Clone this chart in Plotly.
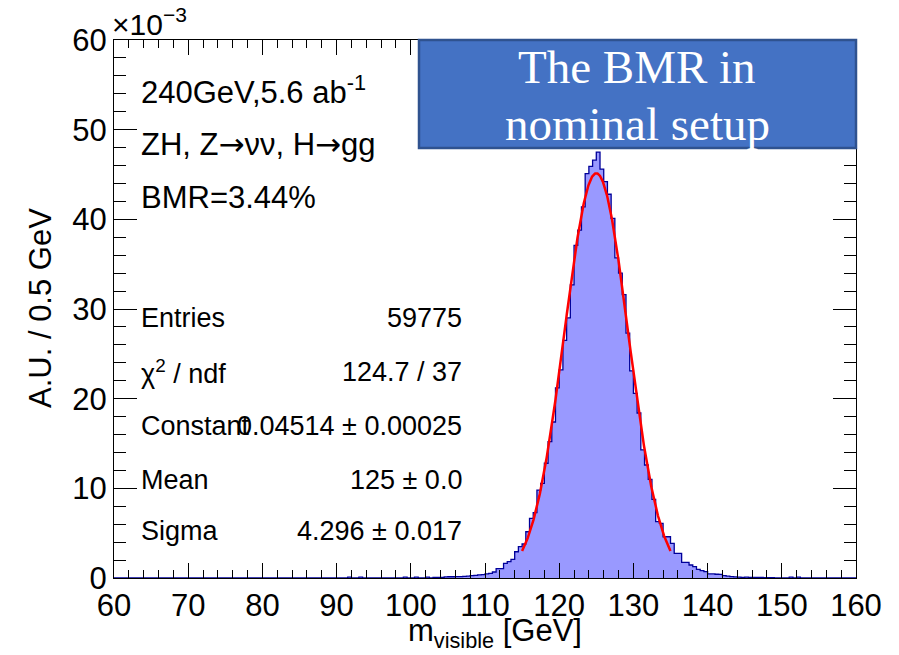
import numpy as np
import plotly.graph_objects as go

# ---- histogram: m_visible, 0.5 GeV bins on [60, 160], contents in units of 1e-3 ----
bin_width = 0.5
x_min, x_max = 60.0, 160.0
first_filled_edge = 90.0
# bin contents starting at 90.0 GeV (one entry per 0.5 GeV bin)
filled_counts = [
    0, 0, 0, 0.1, 0, 0, 0.1, 0, 0, 0,            # 90.0 - 94.5
    0, 0, 0, 0, 0, 0, 0, 0, 0.1, 0,              # 95.0 - 99.5
    0, 0.1, 0, 0, 0.1, 0, 0.08, 0.08, 0.08, 0.12,  # 100.0 - 104.5
    0.14, 0.14, 0.16, 0.16, 0.18, 0.2, 0.27, 0.3, 0.35, 0.37,  # 105.0 - 109.5
    0.45, 0.52, 0.67, 1.04, 1.04, 1.64, 1.82, 2.08, 2.93, 3.49,  # 110.0 - 114.5
    3.79, 5.16, 6.65, 7.28, 9.81, 10.55, 12.8, 15.2, 17.4, 21.2,  # 115.0 - 119.5
    23.2, 26.5, 29.0, 32.7, 37.1, 38.8, 41.4, 45.1, 45.9, 46.6,   # 120.0 - 124.5
    47.5, 45.6, 44.2, 42.8, 40.1, 35.7, 34.0, 31.6, 27.3, 23.1,   # 125.0 - 129.5
    20.6, 18.4, 14.3, 12.6, 11.0, 8.77, 6.28, 6.1, 4.6, 4.6,      # 130.0 - 134.5
    3.87, 2.75, 2.75, 1.75, 1.75, 1.45, 1.26, 0.97, 0.82, 0.70,   # 135.0 - 139.5
    0.45, 0.45, 0.42, 0.40, 0.26, 0.2, 0.15, 0.12, 0.1, 0.08,     # 140.0 - 144.5
    0.1, 0.08, 0.06, 0.06, 0.06, 0.05, 0.04, 0.03, 0, 0,          # 145.0 - 149.5
    0, 0, 0.1, 0, 0.1, 0,                                         # 150.0 - 152.5
]

# ---- Gaussian fit results ----
fit_constant = 0.04514      # per bin
fit_mean = 125.0
fit_sigma = 4.296
fit_range = (115.0, 135.0)

ARROW = '<span style="font-family:DejaVu Sans">→</span>'
stat_labels = ["Entries", "χ<sup>2</sup> / ndf", "Constant", "Mean", "Sigma"]
stat_values = ["59775", "124.7 / 37", "0.04514 ± 0.00025", "125 ± 0.0", "4.296 ± 0.017"]
info_lines = ["240GeV,5.6 ab<sup>-1</sup>",
              f"ZH, Z{ARROW}νν, H{ARROW}gg",
              "BMR=3.44%"]
banner_lines = ["The BMR in", "nominal setup"]

# ---- full binning ----
n_bins = int(round((x_max - x_min) / bin_width))
counts = np.zeros(n_bins)
start = int(round((first_filled_edge - x_min) / bin_width))
counts[start:start + len(filled_counts)] = filled_counts
edges = x_min + bin_width * np.arange(n_bins + 1)
step_y = np.append(counts, counts[-1])

# fit curve (scaled to the 1e-3 axis units)
xf = np.linspace(fit_range[0], fit_range[1], 400)
yf = 1e3 * fit_constant * np.exp(-0.5 * ((xf - fit_mean) / fit_sigma) ** 2)

# ---- page geometry (pixels) ----
W, H = 899, 655
L, R, T, B = 114, 856, 40, 578


def px(x):
    return (x - L) / (R - L)


def py(y):
    return (B - y) / (B - T)


SANS = "Liberation Sans, Arial, Helvetica, sans-serif"
SERIF = "Liberation Serif, Times New Roman, serif"

fig = go.Figure()
fig.add_trace(go.Scatter(
    x=edges, y=step_y, mode="lines", line_shape="hv",
    line=dict(color="#000099", width=1.3),
    fill="tozeroy", fillcolor="#9999FF",
    hoverinfo="skip", showlegend=False,
))
fig.add_trace(go.Scatter(
    x=xf, y=yf, mode="lines",
    line=dict(color="#FF0000", width=2.5),
    hoverinfo="skip", showlegend=False,
))

axis_common = dict(
    showgrid=False, zeroline=False,
    showline=True, linecolor="black", linewidth=1, mirror="allticks",
    ticks="inside", tickcolor="black", tickwidth=1,
    tickfont=dict(family=SANS, size=31, color="black"),
)
fig.update_xaxes(
    range=[x_min, x_max], dtick=10, tick0=60, ticklen=15,
    minor=dict(dtick=2, ticklen=8, ticks="inside", tickcolor="black", showgrid=False),
    **axis_common,
)
fig.update_yaxes(
    range=[0, 60], dtick=10, tick0=0, ticklen=23,
    minor=dict(dtick=2, ticklen=12, ticks="inside", tickcolor="black", showgrid=False),
    **axis_common,
)

ann = []
# axis titles and exponent
ann.append(dict(x=px(495), y=py(633), xref="paper", yref="paper",
                text="m<sub>visible</sub> [GeV]", showarrow=False,
                font=dict(family=SANS, size=31, color="black"),
                xanchor="center", yanchor="middle"))
ann.append(dict(x=px(40), y=py(308), xref="paper", yref="paper",
                text="A.U. / 0.5 GeV", showarrow=False, textangle=-90,
                font=dict(family=SANS, size=31, color="black"),
                xanchor="center", yanchor="middle"))
ann.append(dict(x=px(110), y=py(22), xref="paper", yref="paper",
                text="×10<sup>−3</sup>", showarrow=False,
                font=dict(family=SANS, size=30, color="black"),
                xanchor="left", yanchor="middle"))

# info text
for line, yy in zip(info_lines, [90, 144, 198]):
    ann.append(dict(x=px(139), y=py(yy), xref="paper", yref="paper", text=line,
                    showarrow=False, font=dict(family=SANS, size=31, color="black"),
                    xanchor="left", yanchor="middle"))

# fit statistics
for lab, val, yy in zip(stat_labels, stat_values, [318, 372, 426, 480, 531]):
    ann.append(dict(x=px(139), y=py(yy), xref="paper", yref="paper", text=lab,
                    showarrow=False, font=dict(family=SANS, size=27, color="black"),
                    xanchor="left", yanchor="middle"))
    ann.append(dict(x=px(464), y=py(yy), xref="paper", yref="paper", text=val,
                    showarrow=False, font=dict(family=SANS, size=27, color="black"),
                    xanchor="right", yanchor="middle"))

# banner
for line, yy in zip(banner_lines, [67, 124]):
    ann.append(dict(x=px(637), y=py(yy), xref="paper", yref="paper", text=line,
                    showarrow=False, font=dict(family=SERIF, size=47, color="white"),
                    xanchor="center", yanchor="middle"))

fig.update_layout(
    width=W, height=H,
    margin=dict(l=L, r=W - R, t=T, b=H - B),
    paper_bgcolor="white", plot_bgcolor="white",
    annotations=ann,
    shapes=[dict(type="rect", xref="paper", yref="paper",
                 x0=px(419), x1=px(856), y0=py(148), y1=py(40),
                 fillcolor="#4472C4", line=dict(color="#2F528F", width=2.5),
                 layer="above")],
)

fig.write_html("out.html")
